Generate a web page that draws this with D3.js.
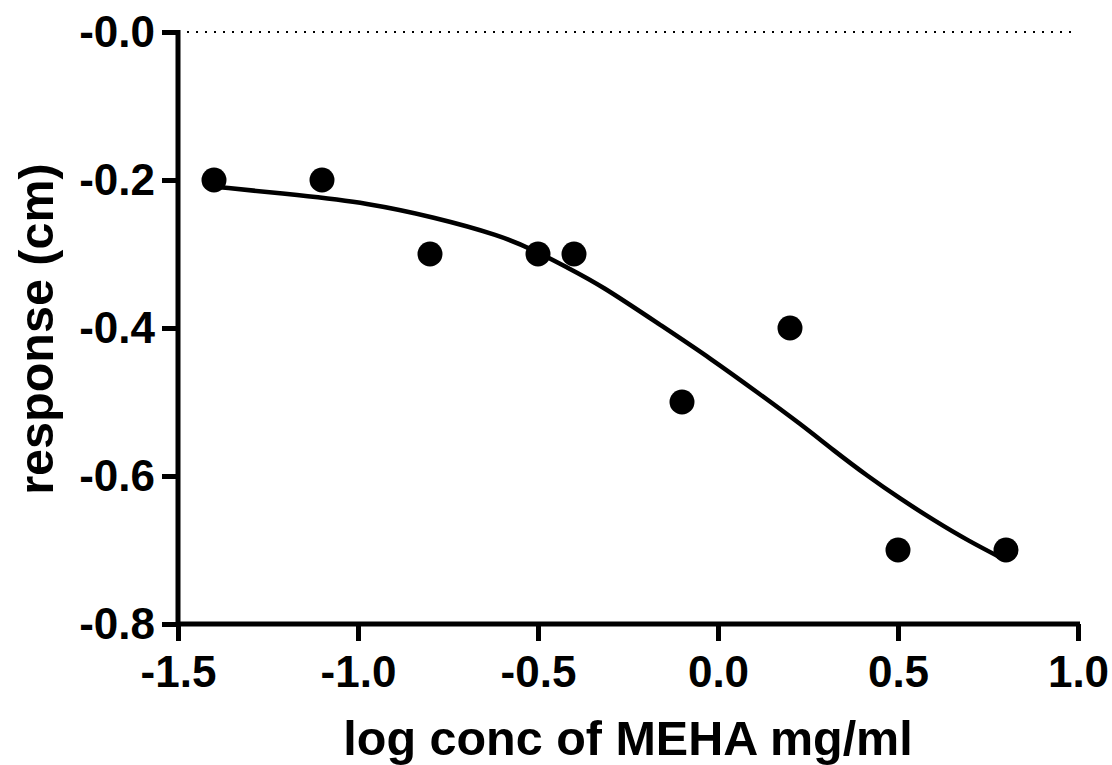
<!DOCTYPE html>
<html>
<head>
<meta charset="utf-8">
<script src="https://cdn.jsdelivr.net/npm/d3@7"></script>
<style>
  html, body { margin: 0; padding: 0; background: #fff; }
  svg { display: block; }
  text { font-family: "Liberation Sans", Arial, sans-serif; font-weight: bold; fill: #000; }
</style>
</head>
<body>
<script>
// ---- data ----
const pointX = [-1.4, -1.1, -0.8, -0.5, -0.4, -0.1, 0.2, 0.5, 0.8];
const pointY = [-0.2, -0.2, -0.3, -0.3, -0.3, -0.5, -0.4, -0.7, -0.7];

// fitted curve
const curveX = [-1.4, -1.16, -0.975, -0.79, -0.604, -0.51, -0.42, -0.326, -0.16, -0.021, 0.118, 0.23, 0.32, 0.415, 0.507, 0.6, 0.693, 0.8];
const curveY = [-0.209, -0.2206, -0.231, -0.250, -0.275, -0.295, -0.318, -0.342, -0.396, -0.441, -0.490, -0.530, -0.565, -0.600, -0.631, -0.660, -0.687, -0.714];

const xTicks = [-1.5, -1.0, -0.5, 0.0, 0.5, 1.0];
const xTickLabels = ["-1.5", "-1.0", "-0.5", "0.0", "0.5", "1.0"];
const yTicks = [0, -0.2, -0.4, -0.6, -0.8];
const yTickLabels = ["-0.0", "-0.2", "-0.4", "-0.6", "-0.8"];

const xTitle = "log conc of MEHA mg/ml";
const yTitle = "response (cm)";

// ---- layout ----
const W = 1112, H = 765;
const pLeft = 178, pRight = 1078, pTop = 32, pBottom = 624;
const FONT = '"Liberation Sans", Arial, sans-serif';

const svg = d3.select("body").append("svg").attr("width", W).attr("height", H);

const x = d3.scaleLinear().domain([-1.5, 1.0]).range([pLeft, pRight]);
const y = d3.scaleLinear().domain([-0.8, 0]).range([pBottom, pTop]);

// dotted zero line
svg.append("line")
  .attr("x1", x(-1.5)).attr("x2", x(1.0))
  .attr("y1", y(0)).attr("y2", y(0))
  .attr("stroke", "#000").attr("stroke-width", 2)
  .attr("stroke-dasharray", "2,7");

// y axis
const yAxis = d3.axisLeft(y)
  .tickValues(yTicks)
  .tickFormat((d, i) => yTickLabels[i])
  .tickSize(16).tickPadding(7).tickSizeOuter(0);
const gy = svg.append("g").attr("transform", `translate(${pLeft},0)`).call(yAxis);
gy.select(".domain").attr("stroke-width", 5).attr("d", `M0,${pTop - 2}V${pBottom}`);
gy.selectAll(".tick line").attr("stroke-width", 5);
gy.selectAll(".tick text").style("font-size", "44px").style("font-family", FONT).style("font-weight", "bold");

// x axis
const xAxis = d3.axisBottom(x)
  .tickValues(xTicks)
  .tickFormat((d, i) => xTickLabels[i])
  .tickSize(17).tickPadding(15).tickSizeOuter(0);
const gx = svg.append("g").attr("transform", `translate(0,${pBottom})`).call(xAxis);
gx.select(".domain").attr("stroke-width", 5).attr("d", `M${pLeft},0H${pRight + 2}`);
gx.selectAll(".tick line").attr("stroke-width", 5);
gx.selectAll(".tick text").style("font-size", "44px").style("font-family", FONT).style("font-weight", "bold");

// curve
const curveData = curveX.map((v, i) => [v, curveY[i]]);
svg.append("path")
  .datum(curveData)
  .attr("fill", "none").attr("stroke", "#000").attr("stroke-width", 4.5)
  .attr("d", d3.line().x(d => x(d[0])).y(d => y(d[1])).curve(d3.curveBasis));

// points
svg.selectAll("circle.pt")
  .data(pointX.map((v, i) => [v, pointY[i]]))
  .join("circle").attr("class", "pt")
  .attr("cx", d => x(d[0])).attr("cy", d => y(d[1]))
  .attr("r", 12.5).attr("fill", "#000");

// titles
svg.append("text")
  .attr("x", (pLeft + pRight) / 2).attr("y", 755)
  .attr("text-anchor", "middle")
  .style("font-size", "48.5px")
  .text(xTitle);

svg.append("text")
  .attr("transform", `translate(53,${329}) rotate(-90)`)
  .attr("text-anchor", "middle")
  .style("font-size", "48.5px")
  .text(yTitle);
</script>
</body>
</html>
